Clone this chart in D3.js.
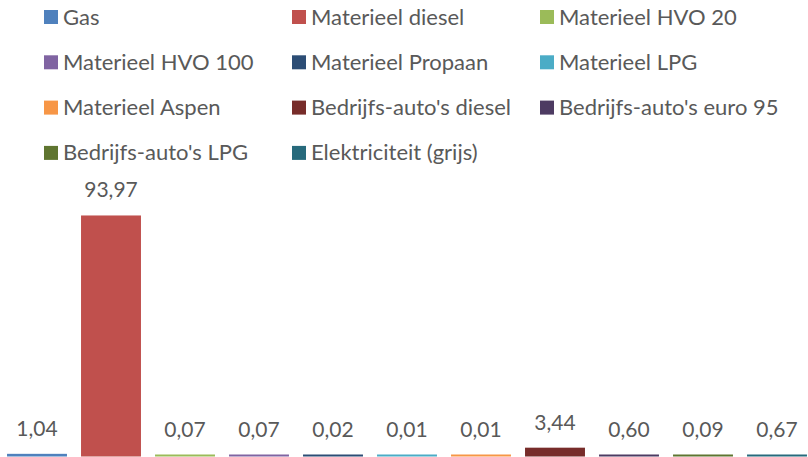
<!DOCTYPE html>
<html>
<head>
<meta charset="utf-8">
<script src="https://cdn.jsdelivr.net/npm/d3@7/dist/d3.min.js"></script>
<style>
  html, body { margin: 0; padding: 0; background: #fff; }
  svg { display: block; }
  text { font-family: Lato, "Open Sans", sans-serif; fill: #595959; }
</style>
</head>
<body>
<div id="chart"></div>
<script>
(function () {
  var categories = [
    'Gas', 'Materieel diesel', 'Materieel HVO 20', 'Materieel HVO 100',
    'Materieel Propaan', 'Materieel LPG', 'Materieel Aspen',
    "Bedrijfs-auto's diesel", "Bedrijfs-auto's euro 95",
    "Bedrijfs-auto's LPG", 'Elektriciteit (grijs)'
  ];
  var values = [1.04, 93.97, 0.07, 0.07, 0.02, 0.01, 0.01, 3.44, 0.60, 0.09, 0.67];
  var colors = [
    '#4F81BD', '#C0504D', '#9BBB59', '#8064A2', '#2C4D75', '#4BACC6',
    '#F79646', '#772C2A', '#4D3B62', '#5F7530', '#276A7C'
  ];

  var width = 808, height = 457;

  var svg = d3.select('#chart').append('svg')
    .attr('width', width)
    .attr('height', height);

  /* -- LEGEND -------------------------------------------- */
  var legendCols = [44, 292, 540];
  var legend = svg.append('g')
    .selectAll('g')
    .data(categories)
    .join('g')
    .attr('transform', function (d, i) {
      return 'translate(' + legendCols[i % 3] + ',' + (17 + Math.floor(i / 3) * 45.3) + ')';
    });

  legend.append('rect')
    .attr('x', 0)
    .attr('y', -7)
    .attr('width', 14)
    .attr('height', 14)
    .attr('fill', function (d, i) { return colors[i]; });

  legend.append('text')
    .attr('x', 19)
    .attr('y', 7.5)
    .style('font-size', '22px')
    .text(function (d) { return d; });

  /* -- BARS ---------------------------------------------- */
  var x = d3.scaleBand()
    .domain(categories)
    .range([0, 814])
    .paddingInner(0.19)
    .paddingOuter(0.095);

  var y = d3.scaleLinear()
    .domain([0, 100])
    .range([456.5, 200]);

  svg.append('g')
    .selectAll('rect')
    .data(values)
    .join('rect')
    .attr('x', function (d, i) { return x(categories[i]); })
    .attr('width', x.bandwidth())
    .attr('y', function (d) { return Math.min(y(d), y(0) - 2); })
    .attr('height', function (d) { return Math.max(y(0) - y(d), 2); })
    .attr('fill', function (d, i) { return colors[i]; });

  svg.append('g')
    .selectAll('text')
    .data(values)
    .join('text')
    .attr('x', function (d, i) { return x(categories[i]) + x.bandwidth() / 2; })
    .attr('y', function (d) { return Math.min(y(d), y(0) - 2) - 18; })
    .attr('text-anchor', 'middle')
    .style('font-size', '21px')
    .text(function (d) { return d3.format('.2f')(d).replace('.', ','); });
})();
</script>
</body>
</html>
